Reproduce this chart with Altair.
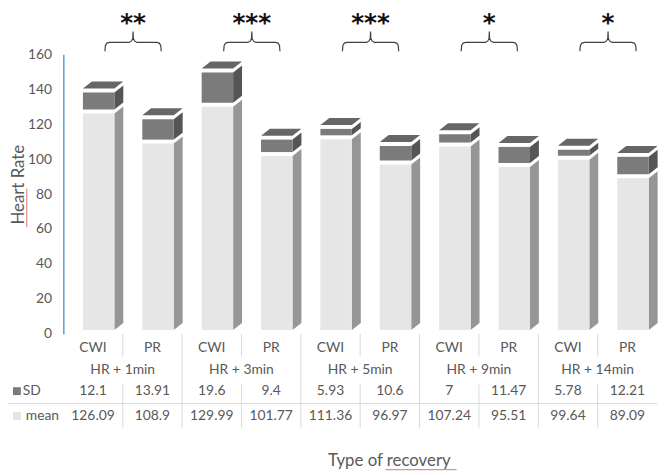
import altair as alt
import pandas as pd

# ---------------- data ----------------
groups = ["HR + 1min", "HR + 3min", "HR + 5min", "HR + 9min", "HR + 14min"]
conditions = ["CWI", "PR"]
mean = [126.09, 108.9, 129.99, 101.77, 111.36, 96.97, 107.24, 95.51, 99.64, 89.09]
sd = [12.1, 13.91, 19.6, 9.4, 5.93, 10.6, 7, 11.47, 5.78, 12.21]
stars = ["**", "***", "***", "*", "*"]
y_ticks = [0, 20, 40, 60, 80, 100, 120, 140, 160]

# ---------------- geometry / style ----------------
W, H = 601, 283
NCOL = 10
YMAX = 160
FL, FR, DX, RISE = 0.33, 0.86, 0.15, 4.0   # 3-D bar front face, depth, rise
YOFF = -4
TXT = "#595959"
FONT = "Lato"
GRID = "#d9d9d9"


def x_of_px(px):
    return px / W * NCOL


def y_of_px(py):
    return (H - py) / H * YMAX


rows = []
for g, grp in enumerate(groups):
    for c, cond in enumerate(conditions):
        i = 2 * g + c
        m, s = mean[i], sd[i]
        rows.append(dict(i=i, cond=cond, group=grp, mean=m, sd=s, total=m + s,
                         zero=0, xl=i + FL, xr=i + FR, xc=i + 0.5,
                         sd_lab=f"{s:g}", mean_lab=f"{m:g}"))
bars = pd.DataFrame(rows)

side_rows, top_rows = [], []
for r in rows:
    side_rows.append(dict(bar=r["i"], x=r["xr"], lo=0, mid=r["mean"], hi=r["total"]))
    side_rows.append(dict(bar=r["i"], x=r["xr"] + DX, lo=RISE, mid=r["mean"] + RISE,
                          hi=r["total"] + RISE))
    top_rows.append(dict(bar=r["i"], y=r["total"], xa=r["xl"], xb=r["xr"]))
    top_rows.append(dict(bar=r["i"], y=r["total"] + RISE, xa=r["xl"] + DX, xb=r["xr"] + DX))
side = pd.DataFrame(side_rows)
top = pd.DataFrame(top_rows)

grp_df = pd.DataFrame({"group": groups, "gx": [2 * g + 1 for g in range(len(groups))],
                       "stars": stars,
                       "sx": [x_of_px((2 * g + 1) * W / NCOL + 10.5) for g in range(len(groups))]})

# curly bracket shape (pixel offsets from its centre)
bdx = [-28.5, -28, -26.5, -24, -4, -1.5, -0.3, 0, 0.3, 1.5, 4, 24, 26.5, 28, 28.5]
bdy = [9, 3, 0.7, 0, 0, -1.5, -4, -11, -4, -1.5, 0, 0, 0.7, 3, 9]
br_rows = []
for g in range(len(groups)):
    cx = (2 * g + 1) * W / NCOL + 10.5
    for k, (dx, dy) in enumerate(zip(bdx, bdy)):
        br_rows.append(dict(g=g, k=k, x=x_of_px(cx + dx), y=y_of_px(-12 + dy)))
brackets = pd.DataFrame(br_rows)

xs = alt.Scale(domain=[0, NCOL], nice=False, zero=False)
ys = alt.Scale(domain=[0, YMAX], nice=False)
yaxis = alt.Axis(values=y_ticks, title=None, grid=False, ticks=False, labelPadding=12,
                 domainColor="#5b9bd5", domainWidth=1.5, labelColor=TXT, labelFont=FONT,
                 labelFontSize=14)

# ---------------- bars (3-D look) ----------------
side_mean = alt.Chart(side).mark_area(orient="vertical", color="#969696", yOffset=YOFF).encode(
    x=alt.X("x:Q", scale=xs, axis=None), y=alt.Y("lo:Q", scale=ys, axis=yaxis, stack=None),
    y2="mid:Q", detail="bar:N")
side_sd = alt.Chart(side).mark_area(orient="vertical", color="#555555", yOffset=YOFF).encode(
    x=alt.X("x:Q", scale=xs, axis=None), y=alt.Y("mid:Q", scale=ys, axis=yaxis, stack=None),
    y2="hi:Q", detail="bar:N")
front_mean = alt.Chart(bars).mark_rect(color="#e6e6e6", yOffset=YOFF).encode(
    x=alt.X("xl:Q", scale=xs, axis=None), x2="xr:Q",
    y=alt.Y("zero:Q", scale=ys, axis=yaxis), y2="mean:Q")
front_sd = alt.Chart(bars).mark_rect(color="#7b7b7b", yOffset=YOFF).encode(
    x=alt.X("xl:Q", scale=xs, axis=None), x2="xr:Q",
    y=alt.Y("mean:Q", scale=ys, axis=yaxis), y2="total:Q")
top_face = alt.Chart(top).mark_area(orient="horizontal", color="#666666", yOffset=YOFF).encode(
    y=alt.Y("y:Q", scale=ys, axis=yaxis, stack=None),
    x=alt.X("xa:Q", scale=xs, axis=None), x2="xb:Q", detail="bar:N")

# ---------------- significance annotations ----------------
bracket_lines = alt.Chart(brackets).mark_line(color="#404040", strokeWidth=1.2).encode(
    x=alt.X("x:Q", scale=xs, axis=None), y=alt.Y("y:Q", scale=ys, axis=yaxis),
    detail="g:N", order="k:Q")
star_text = alt.Chart(grp_df).mark_text(font="DejaVu Sans", fontWeight="bold", fontSize=25,
                                        color="#111111", baseline="alphabetic").encode(
    x=alt.X("sx:Q", scale=xs, axis=None), y=alt.value(-24), text="stars:N")

# ---------------- data table below ----------------
cond_text = alt.Chart(bars).mark_text(font=FONT, fontSize=14, color=TXT).encode(
    x=alt.X("xc:Q", scale=xs, axis=None), y=alt.value(297), text="cond:N")
group_text = alt.Chart(grp_df).mark_text(font=FONT, fontSize=14, color=TXT).encode(
    x=alt.X("gx:Q", scale=xs, axis=None), y=alt.value(320), text="group:N")
sd_text = alt.Chart(bars).mark_text(font=FONT, fontSize=14, color=TXT).encode(
    x=alt.X("xc:Q", scale=xs, axis=None), y=alt.value(341), text="sd_lab:N")
mean_text = alt.Chart(bars).mark_text(font=FONT, fontSize=14, color=TXT).encode(
    x=alt.X("xc:Q", scale=xs, axis=None), y=alt.value(366), text="mean_lab:N")

inner_sep = pd.DataFrame({"x": [2 * g + 1 for g in range(len(groups))]})
outer_sep = pd.DataFrame({"x": [2 * g for g in range(1, len(groups))]})
sep_a = alt.Chart(inner_sep).mark_rule(color=GRID, strokeWidth=1).encode(
    x=alt.X("x:Q", scale=xs, axis=None), y=alt.value(283), y2=alt.value(306))
sep_b = alt.Chart(inner_sep).mark_rule(color=GRID, strokeWidth=1).encode(
    x=alt.X("x:Q", scale=xs, axis=None), y=alt.value(334), y2=alt.value(378))
sep_c = alt.Chart(outer_sep).mark_rule(color=GRID, strokeWidth=1).encode(
    x=alt.X("x:Q", scale=xs, axis=None), y=alt.value(283), y2=alt.value(378))
hline = alt.Chart(pd.DataFrame({"a": [0]})).mark_rule(color=GRID, strokeWidth=1).encode(
    x=alt.value(-56), x2=alt.value(W), y=alt.value(353.5))

legend_df = pd.DataFrame({"lab": ["SD", "mean"], "col": ["#7b7b7b", "#e3e3e3"],
                          "ya": [337, 362], "yb": [345, 370], "yt": [341, 366],
                          "xt": [-41, -38]})
leg_box = alt.Chart(legend_df).mark_rect().encode(
    x=alt.value(-51), x2=alt.value(-43), y=alt.Y("ya:Q", scale=None),
    y2="yb:Q", color=alt.Color("col:N", scale=None))
leg_text = alt.Chart(legend_df).mark_text(font=FONT, fontSize=14, color=TXT, align="left").encode(
    x=alt.X("xt:Q", scale=None), y=alt.Y("yt:Q", scale=None), text="lab:N")

# ---------------- titles ----------------
one = pd.DataFrame({"t": ["Heart Rate"]})
y_title = alt.Chart(one).mark_text(font=FONT, fontSize=17, color=TXT, angle=270).encode(
    x=alt.value(-45), y=alt.value(132), text="t:N")
y_title_ul = alt.Chart(one).mark_rule(color="#e07070", strokeWidth=1).encode(
    x=alt.value(-37), y=alt.value(136), y2=alt.value(175))
x_title = alt.Chart(pd.DataFrame({"t": ["Type of recovery"]})).mark_text(
    font=FONT, fontSize=17, color=TXT, baseline="alphabetic").encode(
    x=alt.value(330), y=alt.value(417), text="t:N")
x_title_ul = alt.Chart(one).mark_rule(color="#e07070", strokeWidth=1).encode(
    x=alt.value(326), x2=alt.value(398), y=alt.value(420.5))

chart = alt.layer(
    side_mean, side_sd, front_mean, front_sd, top_face,
    bracket_lines, star_text,
    sep_a, sep_b, sep_c, hline,
    cond_text, group_text, sd_text, mean_text,
    leg_box, leg_text,
    y_title, y_title_ul, x_title, x_title_ul,
).properties(
    width=W, height=H,
    autosize=alt.AutoSizeParams(type="none"),
    padding={"left": 56, "top": 44, "right": 4, "bottom": 138},
).configure_view(stroke=None)

chart.save("out.html", embed_options={"renderer": "svg", "actions": False})
